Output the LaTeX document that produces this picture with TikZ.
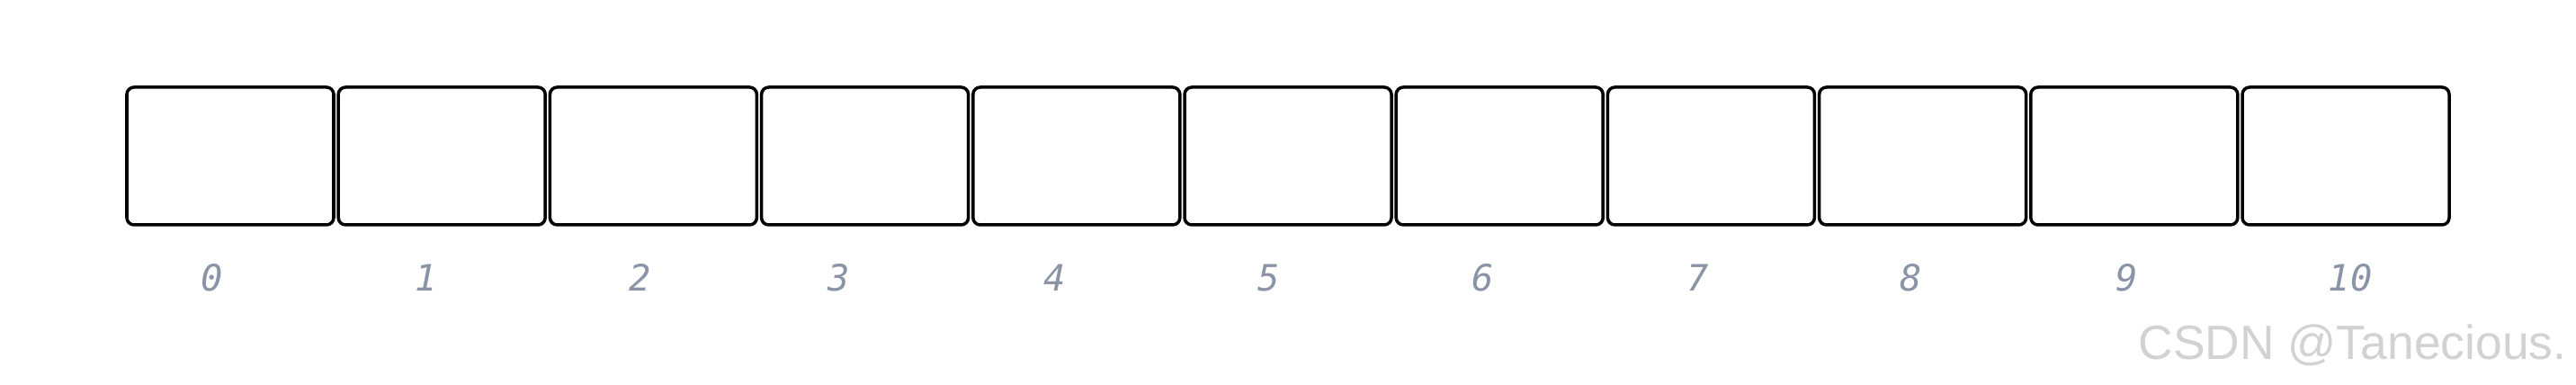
\documentclass[tikz,border=0pt]{standalone}
\usepackage{fontspec}
\setmainfont{Liberation Sans}
\newfontfamily\idxfont{DejaVu Sans Mono}
\definecolor{idxgray}{HTML}{8A94A6}
\definecolor{markgray}{HTML}{D2D2D2}

\tikzset{
  cell/.style={draw=black,line width=1pt,rounded corners=0.08cm,
    minimum width=2.30cm,minimum height=1.53cm,inner sep=0pt},
  idx/.style={text=idxgray,font=\idxfont\itshape\fontsize{11.5}{12}\selectfont,
    inner sep=0pt}
}

\begin{document}
\begin{tikzpicture}
    % the page frame
    \useasboundingbox (0,0) rectangle (28.64,4.28);

    % the cells
    \foreach \n in {0,...,10} {
      \node[cell] (box\n) at (2.56+2.352*\n,2.545) {};
    }
    % the indices under the cells
    \foreach \n/\x in {0/2.36, 1/4.74, 2/7.12, 3/9.33, 4/11.73, 5/14.11,
      6/16.49, 7/18.88, 8/21.25, 9/23.65, 10/26.13} {
      \node[idx] (lbl\n) at (\x,1.19) {\n};
    }

    % the watermark
    \node[anchor=base east,inner sep=0pt,text=markgray,
      font=\fontsize{15.2}{16}\selectfont] (mark) at (28.54,0.28)
      {CSDN @Tanecious.};
\end{tikzpicture}
\end{document}
